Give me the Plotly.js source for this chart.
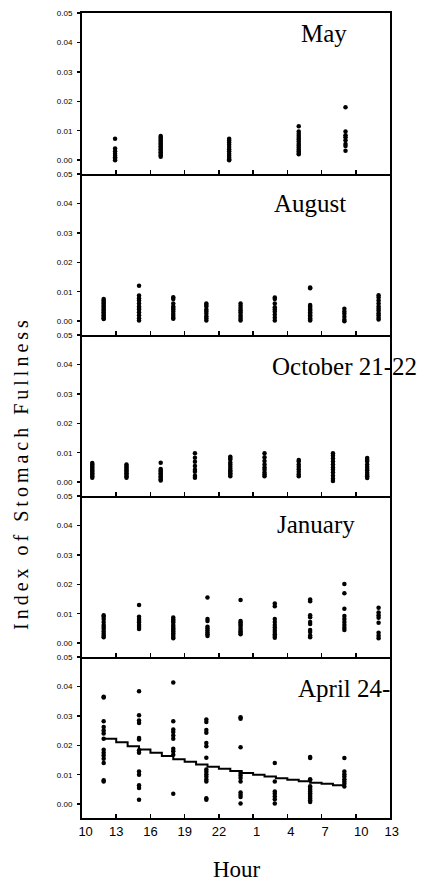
<!DOCTYPE html>
<html>
<head>
<meta charset="utf-8">
<script src="https://cdn.plot.ly/plotly-3.0.1.min.js"></script>
<style>html,body{margin:0;padding:0;background:#fff;}#chart{width:425px;height:884px;}</style>
</head>
<body>
<div id="chart"></div>
<script>
// ---- Data (hours are continuous: 25 = 1:00 next day) ----
const panelNames = ["May", "August", "October 21-22", "January", "April 24-"];

const mayHours = [12.9, 16.9, 22.9, 29.0, 33.1];
const mayValues = [
  [0.0073, 0.004, 0.003, 0.0022, 0.0015, 0.001, 0.0005, 0.0],
  [0.0082, 0.0077, 0.0072, 0.0067, 0.0062, 0.0057, 0.0052, 0.0047, 0.0042, 0.0037, 0.0032, 0.0027, 0.0022, 0.0017, 0.0012],
  [0.0073, 0.0067, 0.006, 0.0052, 0.0045, 0.0037, 0.003, 0.0022, 0.0015, 0.0008, 0.0003, 0.0],
  [0.0115, 0.0097, 0.009, 0.0083, 0.0076, 0.007, 0.0063, 0.0056, 0.005, 0.0043, 0.0036, 0.003, 0.0024, 0.002],
  [0.018, 0.0097, 0.0085, 0.0078, 0.0068, 0.0055, 0.0048, 0.0032]
];

const augHours = [11.9, 15.0, 18.0, 20.9, 23.9, 26.9, 30.0, 33.0, 36.0];
const augValues = [
  [0.0075, 0.007, 0.0065, 0.006, 0.0055, 0.005, 0.0045, 0.004, 0.0035, 0.003, 0.0025, 0.002, 0.0015, 0.001, 0.0007],
  [0.012, 0.0087, 0.0078, 0.007, 0.006, 0.005, 0.0045, 0.004, 0.003, 0.002, 0.001, 0.0002],
  [0.0081, 0.0075, 0.006, 0.005, 0.0045, 0.004, 0.0033, 0.0025, 0.0018, 0.0012, 0.0008],
  [0.006, 0.0055, 0.005, 0.004, 0.0033, 0.0025, 0.0017, 0.001, 0.0002],
  [0.006, 0.0052, 0.0045, 0.0037, 0.003, 0.0022, 0.0015, 0.0008, 0.0002],
  [0.008, 0.0075, 0.006, 0.0047, 0.004, 0.0032, 0.0022, 0.0012, 0.0002],
  [0.0114, 0.0112, 0.0055, 0.005, 0.0045, 0.004, 0.0035, 0.003, 0.0025, 0.002, 0.0015, 0.001, 0.0005, 0.0002],
  [0.0042, 0.0033, 0.0025, 0.0015, 0.0005, 0.0],
  [0.0088, 0.008, 0.007, 0.006, 0.005, 0.0042, 0.0035, 0.0027, 0.002, 0.0012, 0.0006]
];

const octHours = [10.9, 13.9, 16.9, 19.9, 23.0, 26.0, 29.0, 32.0, 35.0];
const octValues = [
  [0.0065, 0.006, 0.0055, 0.005, 0.0045, 0.004, 0.0035, 0.003, 0.0025, 0.002, 0.0015],
  [0.006, 0.0055, 0.005, 0.0045, 0.004, 0.0035, 0.003, 0.0025, 0.002, 0.0015],
  [0.0066, 0.0045, 0.004, 0.0035, 0.003, 0.0025, 0.002, 0.0015, 0.001, 0.0006],
  [0.0098, 0.0083, 0.0069, 0.0055, 0.0042, 0.0035, 0.0022, 0.0015],
  [0.0086, 0.0082, 0.0077, 0.0067, 0.006, 0.0052, 0.0046, 0.004, 0.0035, 0.003, 0.0025, 0.002],
  [0.0098, 0.0085, 0.0072, 0.006, 0.005, 0.0042, 0.0033, 0.0026, 0.002],
  [0.0075, 0.007, 0.006, 0.0052, 0.0044, 0.0035, 0.0027, 0.002],
  [0.0098, 0.009, 0.008, 0.007, 0.006, 0.005, 0.0042, 0.0033, 0.0022, 0.0012, 0.0004],
  [0.0082, 0.0075, 0.007, 0.006, 0.0052, 0.0045, 0.004, 0.0032, 0.0025, 0.002, 0.0014]
];

const janHours = [11.9, 15.0, 18.0, 21.0, 23.9, 26.9, 30.0, 33.0, 36.0];
const janValues = [
  [0.0095, 0.009, 0.0082, 0.0072, 0.0062, 0.0055, 0.0048, 0.004, 0.0032, 0.0025, 0.002],
  [0.013, 0.009, 0.0082, 0.0075, 0.007, 0.0062, 0.0055, 0.0048],
  [0.0087, 0.008, 0.0075, 0.007, 0.0062, 0.0056, 0.005, 0.0045, 0.004, 0.0034, 0.0028, 0.0022, 0.0017],
  [0.0155, 0.0082, 0.0075, 0.0056, 0.005, 0.0043, 0.0036, 0.003, 0.0024],
  [0.0147, 0.0075, 0.007, 0.0065, 0.006, 0.0052, 0.0046, 0.004, 0.0035, 0.003],
  [0.0135, 0.0125, 0.0082, 0.0072, 0.0062, 0.0053, 0.0045, 0.0038, 0.003, 0.0024, 0.0018],
  [0.0148, 0.0142, 0.0095, 0.0088, 0.0072, 0.0065, 0.0045, 0.0038, 0.0026, 0.002],
  [0.0201, 0.017, 0.0117, 0.0092, 0.0082, 0.0072, 0.0062, 0.0052, 0.0045],
  [0.012, 0.0104, 0.0095, 0.0086, 0.0069, 0.0035, 0.0025, 0.0017]
];

const aprHours = [11.9, 15.0, 18.0, 20.9, 23.9, 26.9, 30.0, 33.0];
const aprValues = [
  [0.0365, 0.0362, 0.0282, 0.0262, 0.025, 0.024, 0.0222, 0.0185, 0.0175, 0.0165, 0.0154, 0.014, 0.0081, 0.0077],
  [0.0384, 0.0302, 0.0284, 0.0276, 0.0225, 0.022, 0.0183, 0.0175, 0.0111, 0.01, 0.0064, 0.0055, 0.0015],
  [0.0413, 0.0282, 0.0254, 0.0245, 0.0233, 0.0222, 0.0188, 0.018, 0.0168, 0.0035],
  [0.0288, 0.0279, 0.0252, 0.0243, 0.0208, 0.0197, 0.0158, 0.0118, 0.011, 0.0102, 0.0093, 0.0084, 0.0077, 0.002, 0.0015],
  [0.0295, 0.029, 0.0193, 0.0106, 0.0097, 0.0089, 0.0077, 0.004, 0.0032, 0.0024, 0.0002],
  [0.014, 0.0077, 0.0043, 0.0035, 0.0026, 0.0017, 0.0002],
  [0.016, 0.0157, 0.0085, 0.0082, 0.0061, 0.0055, 0.0049, 0.0043, 0.0037, 0.0031, 0.0025, 0.0019, 0.0013, 0.0007],
  [0.0157, 0.0111, 0.0102, 0.0094, 0.0085, 0.0077, 0.0069, 0.006]
];

// fitted trend line for April
const aprFitHours = [11.9, 13, 14, 15, 16, 17, 18, 19, 20, 21, 22, 23, 24, 25, 26, 27, 28, 29, 30, 31, 32, 33];
const aprFitValues = [0.0222, 0.021, 0.0197, 0.0186, 0.0175, 0.0164, 0.0153, 0.0144, 0.0135, 0.0127, 0.012, 0.0113, 0.0106, 0.01, 0.0094, 0.0088, 0.0083, 0.0078, 0.0073, 0.0069, 0.0064, 0.006];

const tickHours = [10, 13, 16, 19, 22, 25, 28, 31, 34, 37];
const tickLabels = ["\u00a0\u00a010", "13", "16", "19", "22", "\u00a0\u00a01", "\u00a0\u00a04", "\u00a0\u00a07", "\u00a0\u00a0\u00a010", "\u00a013"];
const yTickVals = [0, 0.01, 0.02, 0.03, 0.04, 0.05];
const yTickLabels = ["0.00", "0.01", "0.02", "0.03", "0.04", "0.05"];

// ---- Build ----
const panels = [
  [mayHours, mayValues],
  [augHours, augValues],
  [octHours, octValues],
  [janHours, janValues],
  [aprHours, aprValues]
];

function flatten(hours, values) {
  const x = [], y = [];
  hours.forEach((h, i) => values[i].forEach(v => { x.push(h); y.push(v); }));
  return {x, y};
}

const traces = [];
const layout = {
  width: 425, height: 884,
  margin: {l: 82, r: 35, t: 13, b: 66},
  paper_bgcolor: "#fff", plot_bgcolor: "#fff",
  showlegend: false,
  font: {family: "Liberation Sans, Arial, sans-serif", color: "#000"},
  annotations: [],
  shapes: []
};

const nameX = [300, 273, 271, 276, 297];
const nameY = [33, 203, 366, 524, 688];

panels.forEach((p, i) => {
  const idx = i + 1;
  const xa = idx === 1 ? "x" : "x" + idx;
  const ya = idx === 1 ? "y" : "y" + idx;
  const d = flatten(p[0], p[1]);
  traces.push({
    type: "scatter", mode: "markers", x: d.x, y: d.y,
    xaxis: xa, yaxis: ya,
    marker: {color: "#000", size: 4.5}, cliponaxis: false, hoverinfo: "skip"
  });
  const top = 1 - i * 0.2, bot = 1 - (i + 1) * 0.2;
  const xKey = idx === 1 ? "xaxis" : "xaxis" + idx;
  const yKey = idx === 1 ? "yaxis" : "yaxis" + idx;
  layout[xKey] = {
    domain: [0, 1], anchor: ya, range: [10, 37],
    tickmode: "array", tickvals: tickHours, ticktext: tickLabels,
    ticks: "inside", ticklen: 4, tickwidth: 1.5, tickcolor: "#000",
    showticklabels: idx === 5,
    tickfont: {family: "Liberation Sans, Arial, sans-serif", size: 13, color: "#000"},
    showline: true, linewidth: 2, linecolor: "#000", mirror: idx === 1,
    showgrid: false, zeroline: false, fixedrange: true
  };
  if (idx !== 1) layout[xKey].matches = "x";
  layout[yKey] = {
    domain: [bot, top], anchor: xa, range: [-0.0047, 0.05],
    tickmode: "array", tickvals: yTickVals, ticktext: yTickLabels,
    ticks: "outside", ticklen: 3, tickwidth: 1.5, tickcolor: "#000",
    ticklabelstandoff: 3,
    tickfont: {family: "Liberation Sans, Arial, sans-serif", size: 8, color: "#000"},
    showline: true, linewidth: 2, linecolor: "#000", mirror: true,
    showgrid: false, zeroline: false, fixedrange: true
  };
  layout.annotations.push({
    text: panelNames[i], xref: "paper", yref: "paper",
    x: (nameX[i] - 82) / 308, y: (818 - nameY[i]) / 805,
    xanchor: "left", yanchor: "middle", showarrow: false, borderpad: 0,
    font: {family: "Liberation Serif, Times New Roman, serif", size: 25, color: "#000"}
  });
});

traces.push({
  type: "scatter", mode: "lines", x: aprFitHours, y: aprFitValues,
  xaxis: "x5", yaxis: "y5", line: {color: "#000", width: 2, shape: "hv"}, hoverinfo: "skip"
});

layout.annotations.push({
  text: '<span style="letter-spacing:4px">Index of Stomach Fullness</span>',
  xref: "paper", yref: "paper", x: (21 - 82) / 308, y: (818 - 473) / 805,
  xanchor: "center", yanchor: "middle", textangle: -90, showarrow: false,
  font: {family: "Liberation Serif, Times New Roman, serif", size: 20, color: "#000"}
});
layout.annotations.push({
  text: "Hour", xref: "paper", yref: "paper", x: (237 - 82) / 308, y: (818 - 869.5) / 805,
  xanchor: "center", yanchor: "middle", showarrow: false,
  font: {family: "Liberation Serif, Times New Roman, serif", size: 23, color: "#000"}
});

Plotly.newPlot("chart", traces, layout, {staticPlot: true, displayModeBar: false});
</script>
</body>
</html>
